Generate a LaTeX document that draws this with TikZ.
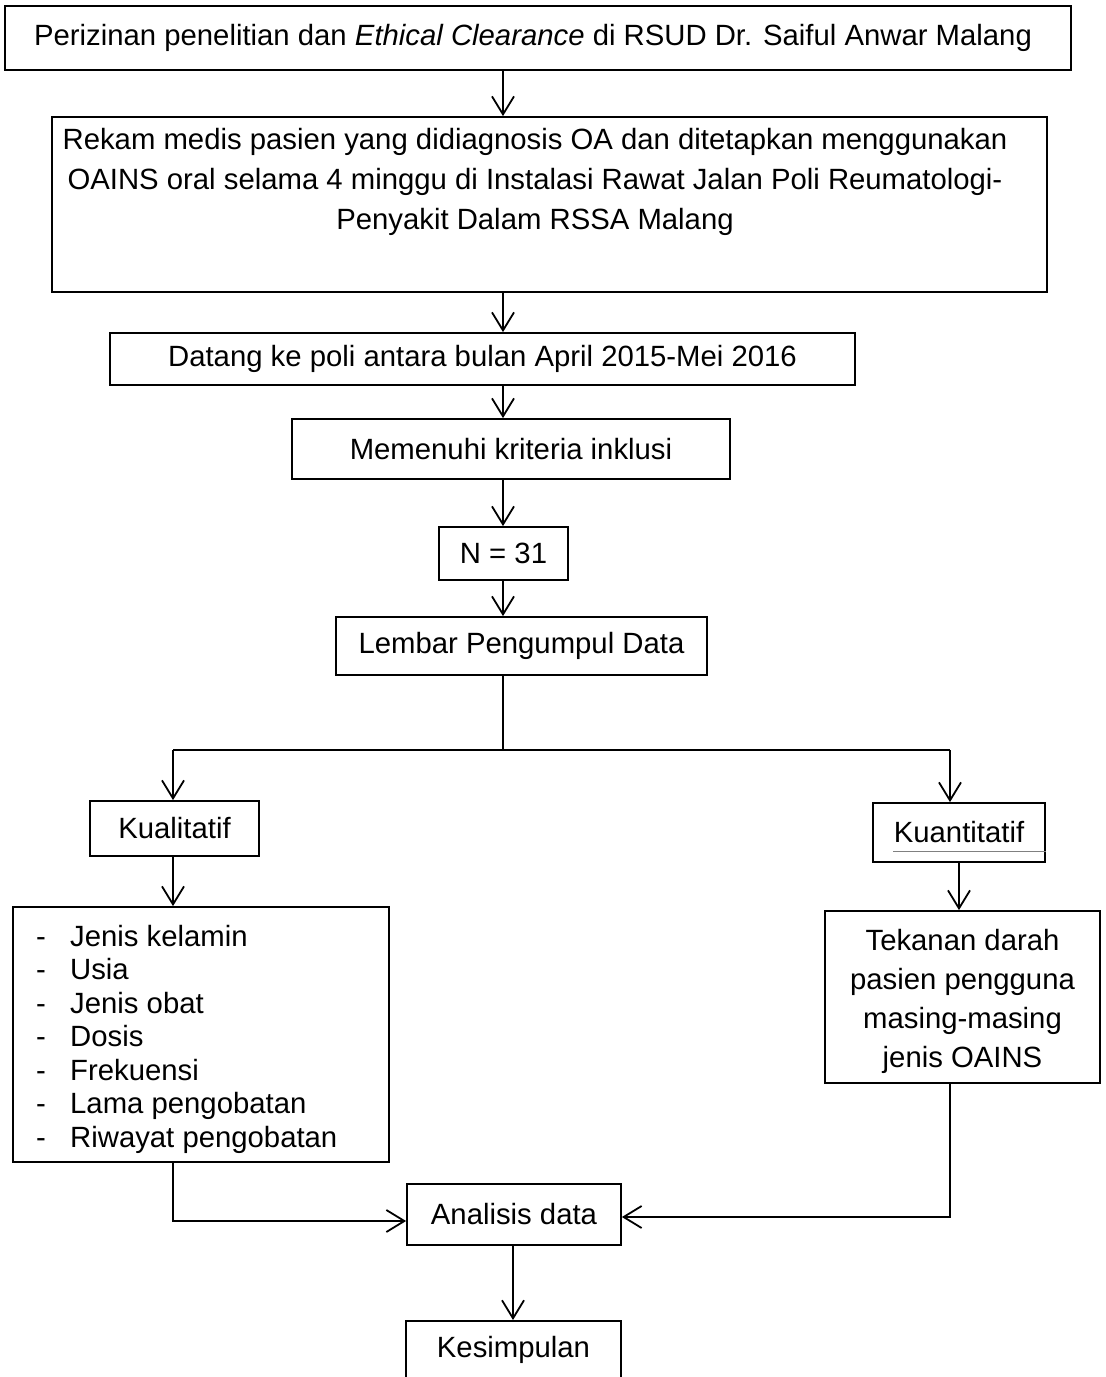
\documentclass[tikz,border=0pt]{standalone}
\usepackage{fontspec}
\setmainfont{Liberation Sans}
\usetikzlibrary{arrows.meta}
\begin{document}
\begin{tikzpicture}[x=1pt,y=-1pt,
  box/.style={draw,line width=1.8pt,inner sep=0pt,font=\fontsize{29.3}{33}\selectfont},
  txt/.style={inner sep=0pt,font=\fontsize{29.3}{33}\selectfont},
  arr/.style={line width=1.8pt,-{Straight Barb[length=18pt,width=22pt,line width=1.8pt]}},
  ln/.style={line width=1.8pt}]
\useasboundingbox (0,0) rectangle (1106,1377);
\clip (0,0) rectangle (1106,1377);
\fill[white] (0,0) rectangle (1106,1377);
\node[box,minimum width=1066pt,minimum height=64pt] (b1) at (538,38) {};
\node[txt] (t1) at (533,38) {Perizinan penelitian dan \textit{Ethical Clearance} di RSUD Dr. Saiful Anwar Malang};
\node[box,minimum width=995pt,minimum height=175pt] (b2) at (549.5,204.5) {};
\node[txt,align=center,font=\fontsize{29.3}{40}\selectfont] (t2) at (535,182) {Rekam medis pasien yang didiagnosis OA dan ditetapkan menggunakan\\OAINS oral selama 4 minggu di Instalasi Rawat Jalan Poli Reumatologi-\\Penyakit Dalam RSSA Malang};
\node[box,minimum width=745pt,minimum height=52pt] (b3) at (482.5,359) {Datang ke poli antara bulan April 2015-Mei 2016};
\node[box,minimum width=438pt,minimum height=60pt] (b4) at (511,449) {Memenuhi kriteria inklusi};
\node[box,minimum width=129pt,minimum height=53pt] (b5) at (503.5,553.5) {N = 31};
\node[box,minimum width=371pt,minimum height=58pt] (b6) at (521.5,646) {Lembar Pengumpul Data};
\node[box,minimum width=169pt,minimum height=55pt] (kual) at (174.5,828.5) {Kualitatif};
\node[box,minimum width=172pt,minimum height=59pt] (kuan) at (959,832.5) {Kuantitatif};
\draw[gray,line width=0.8pt] (893,851) -- (kuan.east |- 0,851);
\node[box,minimum width=376pt,minimum height=255pt] (list) at (201,1034.5) {};
\node[txt,anchor=north west,align=left,font=\fontsize{29.3}{33.5}\selectfont] (lt) at (36,925) {%
\makebox[34pt][l]{-}Jenis kelamin\\
\makebox[34pt][l]{-}Usia\\
\makebox[34pt][l]{-}Jenis obat\\
\makebox[34pt][l]{-}Dosis\\
\makebox[34pt][l]{-}Frekuensi\\
\makebox[34pt][l]{-}Lama pengobatan\\
\makebox[34pt][l]{-}Riwayat pengobatan};
\node[box,minimum width=275pt,minimum height=172pt] (rb) at (962.5,997) {};
\node[txt,align=center,font=\fontsize{29.3}{39}\selectfont] (rt) at (962.5,1001) {Tekanan darah\\pasien pengguna\\masing-masing\\jenis OAINS};
\node[box,minimum width=214pt,minimum height=61pt] (an) at (514,1214.5) {Analisis data};
\node[box,minimum width=215pt,minimum height=90pt,anchor=north] (ks) at (513.5,1320) {};
\node[txt] (kt) at (513.5,1350) {Kesimpulan};
% connectors
\draw[arr] (b1.south -| 503,0) -- (b2.north -| 503,0);
\draw[arr] (b2.south -| 503,0) -- (b3.north -| 503,0);
\draw[arr] (b3.south -| 503,0) -- (b4.north -| 503,0);
\draw[arr] (b4.south -| 503,0) -- (b5.north -| 503,0);
\draw[arr] (b5.south -| 503,0) -- (b6.north -| 503,0);
\coordinate (sp) at (503,750);
\draw[ln] (b6.south -| sp) -- (sp);
\draw[ln] (173,750) -- (950,750);
\draw[arr] (173,750) -- (kual.north -| 173,0);
\draw[arr] (950,750) -- (kuan.north -| 950,0);
\draw[arr] (kual.south -| 173,0) -- (list.north -| 173,0);
\draw[arr] (kuan.south -| 959,0) -- (rb.north -| 959,0);
\draw[arr] (list.south -| 173,0) |- (an.west |- 0,1221);
\draw[arr] (rb.south -| 950,0) |- (an.east |- 0,1217);
\draw[arr] (an.south -| 513,0) -- (ks.north -| 513,0);
\end{tikzpicture}
\end{document}
